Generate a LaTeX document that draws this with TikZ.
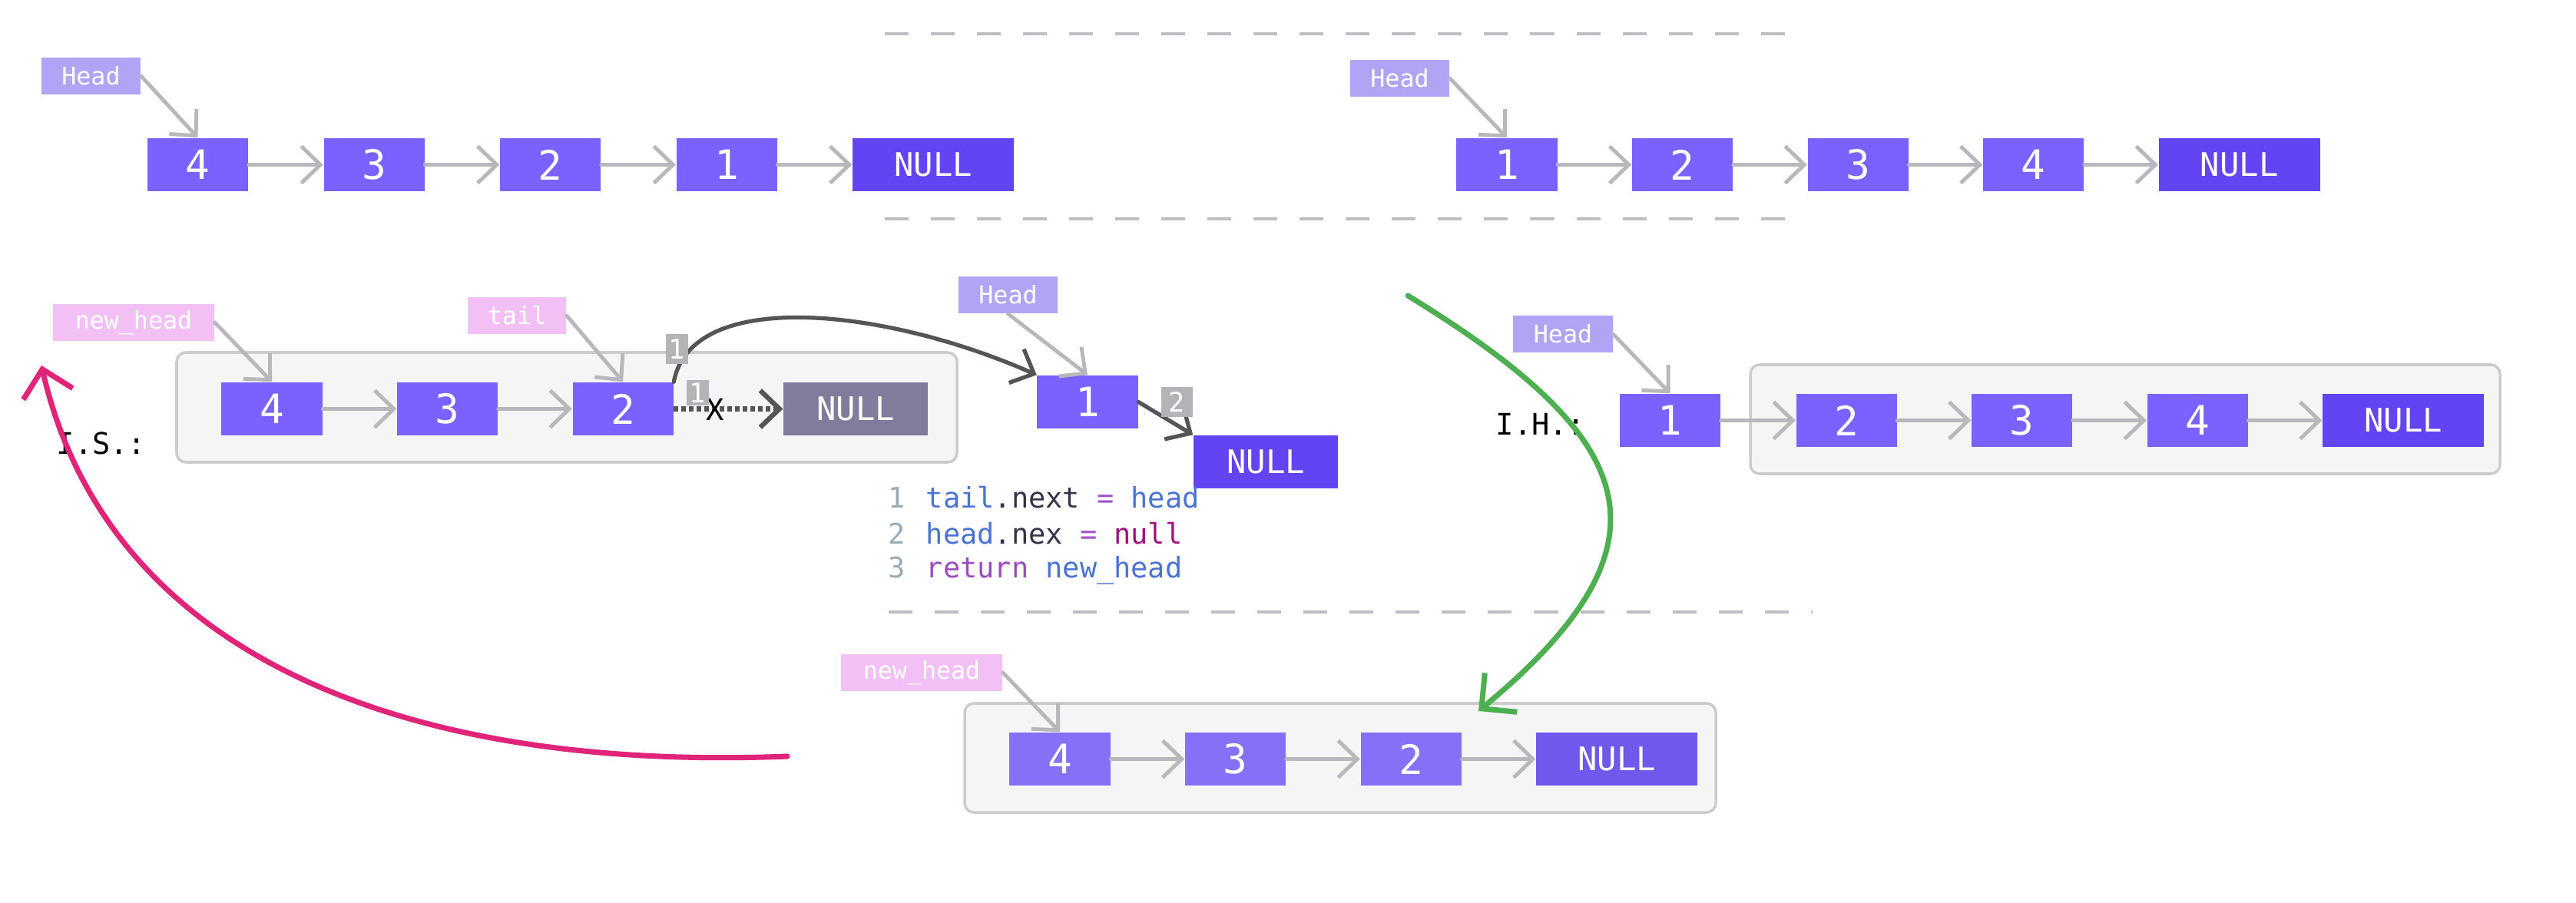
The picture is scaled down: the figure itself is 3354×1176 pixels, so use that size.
\documentclass[tikz,border=0pt]{standalone}
\usepackage{fontspec}
\setmainfont{DejaVu Sans Mono}
\usetikzlibrary{positioning,arrows.meta}

\definecolor{nodefill}{HTML}{7B61FF}
\definecolor{nullfill}{HTML}{6344F2}
\definecolor{fadefill}{HTML}{8670F6}
\definecolor{fadenull}{HTML}{7058EC}
\definecolor{greynull}{HTML}{807C9C}
\definecolor{ptrfill}{HTML}{B1A4F5}
\definecolor{pinkfill}{HTML}{F2C0F5}
\definecolor{linkgrey}{HTML}{B8B8BC}
\definecolor{stepgrey}{HTML}{B4B4B8}
\definecolor{arcgrey}{HTML}{555555}
\definecolor{framefill}{HTML}{F5F5F5}
\definecolor{framedraw}{HTML}{CCCCCC}
\definecolor{rulegrey}{HTML}{BDBDC2}
\definecolor{greenarc}{HTML}{4CAF50}
\definecolor{pinkarc}{HTML}{E0247A}
\definecolor{codenum}{HTML}{9AABB8}
\definecolor{codeblue}{HTML}{4A73D5}
\definecolor{codedark}{HTML}{33334A}
\definecolor{codeop}{HTML}{A352CC}
\definecolor{codenull}{HTML}{A0117F}
\definecolor{codekw}{HTML}{9B4AC6}

\tikzset{
  item/.style={shape=rectangle, fill=nodefill, text=white, inner sep=0pt, minimum width=1.31cm, minimum height=0.69cm, font=\fontsize{15}{15}\selectfont},
  nullitem/.style={item, fill=nullfill, minimum width=2.1cm, font=\fontsize{12}{12}\selectfont},
  pointer/.style={shape=rectangle, fill=ptrfill, text=white, inner sep=0pt, minimum width=1.29cm, minimum height=0.48cm, font=\fontsize{9}{9}\selectfont},
  pinkpointer/.style={pointer, fill=pinkfill},
  stepmark/.style={shape=rectangle, fill=stepgrey, text=white, inner sep=0pt, minimum width=0.29cm, minimum height=0.39cm, font=\fontsize{10}{10}\selectfont},
  frame/.style={fill=framefill, draw=framedraw, line width=1pt, rounded corners=0.12cm},
  link/.style={draw=linkgrey, line width=1.4pt, line cap=round, line join=round, -{Straight Barb[length=2.5mm,width=4.8mm]}},
  darklink/.style={link, draw=arcgrey, line width=1.5pt},
  rule/.style={draw=rulegrey, line width=1pt, dash pattern=on 0.31cm off 0.29cm},
  bigarc/.style={line width=2pt, line cap=round, line join=round, -{Straight Barb[length=3.3mm,width=6.6mm]}},
  code/.style={anchor=west, inner sep=0pt, font=\fontsize{10.5}{10.5}\selectfont, text=codedark},
  caption/.style={font=\fontsize{11}{11}\selectfont, text=black},
}

\begin{document}
\begin{tikzpicture}[x=0.01cm, y=-0.01cm]
\useasboundingbox (0,0) rectangle (3354,1176);

% separators
\draw[rule] (1152,44) -- (2352,44);
\draw[rule] (1152,285) -- (2352,285);
\draw[rule] (1157,797) -- (2360,797);

% list before
\node[item] (l4) at (257.5,214.5) {4};
\node[item, right=0.97cm of l4] (l3) {3};
\node[item, right=0.97cm of l3] (l2) {2};
\node[item, right=0.97cm of l2] (l1) {1};
\node[nullitem, right=0.97cm of l1] (lnull) {NULL};
\node[pointer] (lhead) at (118.5,99) {Head};
\draw[link] (l4) -- (l3);
\draw[link] (l3) -- (l2);
\draw[link] (l2) -- (l1);
\draw[link] (l1) -- (lnull);
\draw[link] (lhead.east) -- (l4.north);

% list after
\node[item] (r1) at (1962,214.5) {1};
\node[item, right=0.96cm of r1] (r2) {2};
\node[item, right=0.96cm of r2] (r3) {3};
\node[item, right=0.96cm of r3] (r4) {4};
\node[nullitem, right=0.96cm of r4] (rnull) {NULL};
\node[pointer] (rhead) at (1822.5,102) {Head};
\draw[link] (r1) -- (r2);
\draw[link] (r2) -- (r3);
\draw[link] (r3) -- (r4);
\draw[link] (r4) -- (rnull);
\draw[link] (rhead.east) -- (r1.north);

% I.S.
\draw[frame] (230,459) rectangle (1246,602);
\node[item] (s4) at (354,532.5) {4};
\node[item, right=0.96cm of s4] (s3) {3};
\node[item, right=0.96cm of s3] (s2) {2};
\node[nullitem, fill=greynull, minimum width=1.88cm, right=1.42cm of s2] (snull) {NULL};
\node[pinkpointer, minimum width=2.1cm] (snew) at (174,420) {new\_head};
\node[pinkpointer, minimum width=1.28cm] (stail) at (673,411) {tail};
\node[caption] (is) at (132,577) {I.S.:};
\draw[link] (s4) -- (s3);
\draw[link] (s3) -- (s2);
\draw[link] (snew.east) -- (s4.north);
\draw[link] (stail.east) -- (s2.north);

% head node of the step
\node[pointer] (mhead) at (1312.5,384) {Head};
\node[item] (m1) at (1416,523.5) {1};
\node[nullitem, minimum width=1.88cm] (mnull) at (1648,601.5) {NULL};
\draw[link] (mhead.south) -- (m1.north);
\draw[darklink] (s2.north east) .. controls (900,375) and (1150,400) .. (m1.north west);
\draw[darklink, line cap=butt, line width=1.8pt, dash pattern=on 0.06cm off 0.04cm] (s2.east) -- (snull.west);
\node[caption, inner sep=0pt] (x) at (931,533) {X};
\node[stepmark] (st1a) at (881.5,454.5) {1};
\node[stepmark, minimum height=0.33cm] (st1b) at (908.5,511.5) {1};
\draw[darklink] (m1.east) -- (mnull.north west);
\node[stepmark, minimum width=0.41cm] (st2) at (1532.5,523.5) {2};

% code
\node[code] (c1) at (1156,648) {\makebox[14pt][l]{\textcolor{codenum}{1}}\textcolor{codeblue}{tail}.next \textcolor{codeop}{=} \textcolor{codeblue}{head}};
\node[code] (c2) at (1156,695) {\makebox[14pt][l]{\textcolor{codenum}{2}}\textcolor{codeblue}{head}.nex \textcolor{codeop}{=} \textcolor{codenull}{null}};
\node[code] (c3) at (1156,743) {\makebox[14pt][l]{\textcolor{codenum}{3}}\textcolor{codekw}{return} \textcolor{codeblue}{new\_head}};

% I.H.
\draw[frame] (2279,475) rectangle (3255,617);
\node[item] (h1) at (2174.5,547.5) {1};
\node[item, right=0.97cm of h1] (h2) {2};
\node[item, right=0.96cm of h2] (h3) {3};
\node[item, right=0.96cm of h3] (h4) {4};
\node[nullitem, right=0.96cm of h4] (hnull) {NULL};
\node[pointer] (hhead) at (2035,435) {Head};
\node[caption] (ih) at (2006,552) {I.H.:};
\draw[link] (h1) -- (h2);
\draw[link] (h2) -- (h3);
\draw[link] (h3) -- (h4);
\draw[link] (h4) -- (hnull);
\draw[link] (hhead.east) -- (h1.north);

% result
\draw[frame] (1256,916) rectangle (2234,1058);
\node[item, fill=fadefill] (b4) at (1380,988.5) {4};
\node[item, fill=fadefill, right=0.96cm of b4] (b3) {3};
\node[item, fill=fadefill, right=0.96cm of b3] (b2) {2};
\node[nullitem, fill=fadenull, right=0.96cm of b2] (bnull) {NULL};
\node[pinkpointer, minimum width=2.1cm] (bnew) at (1200,876) {new\_head};
\draw[link] (b4) -- (b3);
\draw[link] (b3) -- (b2);
\draw[link] (b2) -- (bnull);
\draw[link] (bnew.east) -- (b4.north);

% arcs
\coordinate (gfrom) at (1833,385);
\coordinate (gto) at (1925,926);
\draw[bigarc, draw=greenarc] (gfrom) .. controls (2130,567) and (2195,703) .. (gto);
\coordinate (pfrom) at (1025,985);
\coordinate (pto) at (54,476);
\draw[bigarc, draw=pinkarc] (pfrom) .. controls (520,1005) and (140,850) .. (pto);
\end{tikzpicture}
\end{document}
